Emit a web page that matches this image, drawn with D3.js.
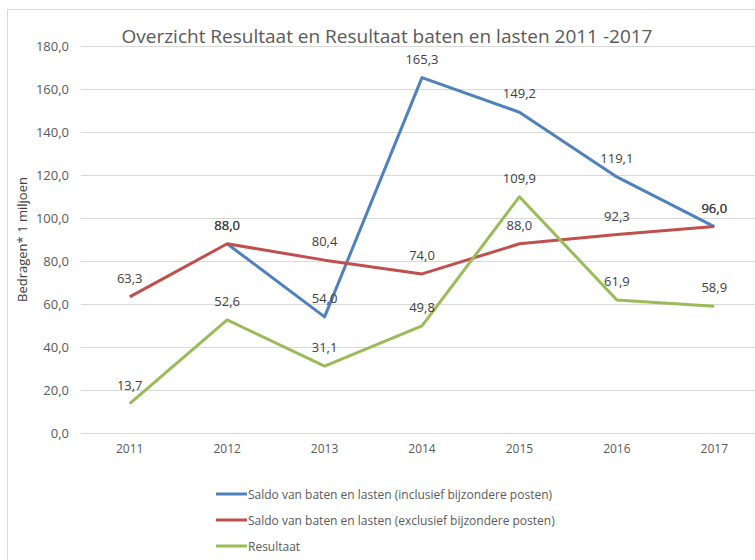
<!DOCTYPE html>
<html>
<head>
<meta charset="utf-8">
<script src="https://cdn.jsdelivr.net/npm/d3@7"></script>
<style>
  body { margin: 0; background: #fff; }
  svg { display: block; font-family: "Open Sans", sans-serif; }
</style>
</head>
<body>
<div id="chart"></div>
<script>
const years = ['2011', '2012', '2013', '2014', '2015', '2016', '2017'];
const inclusief = [null, 88.0, 54.0, 165.3, 149.2, 119.1, 96.0];
const exclusief = [63.3, 88.0, 80.4, 74.0, 88.0, 92.3, 96.0];
const resultaat = [13.7, 52.6, 31.1, 49.8, 109.9, 61.9, 58.9];
const yTicks = [0, 20, 40, 60, 80, 100, 120, 140, 160, 180];

const series = [
  { name: 'Saldo van baten en lasten (inclusief bijzondere posten)', values: inclusief, colour: '#4F81BD' },
  { name: 'Saldo van baten en lasten (exclusief bijzondere posten)', values: exclusief, colour: '#C0504D' },
  { name: 'Resultaat', values: resultaat, colour: '#9BBB59' },
];

const width = 755;
const height = 560;
const margin = { top: 46, left: 81, bottom: 127 };
const plotRight = 763;

const fmt = v => d3.format('.1f')(v).replace('.', ',');

const x = d3.scaleBand()
    .domain(years)
    .range([margin.left, plotRight]);

const y = d3.scaleLinear()
    .domain([0, 180])
    .range([height - margin.bottom, margin.top]);

const svg = d3.select('#chart').append('svg')
    .attr('width', width)
    .attr('height', height);

// outer chart border
svg.append('rect')
    .attr('x', 7.5).attr('y', 9.5)
    .attr('width', width + 10).attr('height', height + 10)
    .attr('fill', 'none')
    .attr('stroke', '#d9d9d9');

svg.append('text')
    .attr('x', 387).attr('y', 43)
    .attr('text-anchor', 'middle')
    .style('font-size', '19px')
    .style('fill', '#595959')
    .text('Overzicht Resultaat en Resultaat baten en lasten 2011 -2017');

// gridlines + y labels
const yAxis = svg.append('g')
    .attr('transform', `translate(${margin.left},0)`)
    .call(d3.axisLeft(y).tickValues(yTicks).tickFormat(fmt)
      .tickSize(-(plotRight - margin.left)).tickPadding(12));
yAxis.select('.domain').remove();
yAxis.selectAll('line').attr('stroke', '#d9d9d9');
yAxis.selectAll('text')
    .style('font-size', '13px')
    .style('fill', '#595959')
    .style('font-family', '"Open Sans", sans-serif');

const xAxis = svg.append('g')
    .attr('transform', `translate(0,${y(0)})`)
    .call(d3.axisBottom(x).tickSize(0).tickPadding(11));
xAxis.select('.domain').remove();
xAxis.selectAll('text')
    .style('font-size', '12px')
    .style('fill', '#595959')
    .style('font-family', '"Open Sans", sans-serif');

svg.append('text')
    .attr('transform', `translate(27,${y(90)}) rotate(-90)`)
    .attr('text-anchor', 'middle')
    .style('font-size', '13px')
    .style('fill', '#404040')
    .text('Bedragen* 1 miljoen');

const line = d3.line()
    .defined(d => d != null)
    .x((d, i) => x(years[i]) + x.bandwidth() / 2)
    .y(d => y(d));

series.forEach(s => {
  svg.append('path')
      .datum(s.values)
      .attr('d', line)
      .attr('fill', 'none')
      .attr('stroke', s.colour)
      .attr('stroke-width', 3)
      .attr('stroke-linejoin', 'round');
});

series.forEach(s => {
  svg.append('g').selectAll('text')
      .data(s.values.map((v, i) => ({ v, year: years[i] })).filter(d => d.v != null))
    .enter().append('text')
      .attr('x', d => x(d.year) + x.bandwidth() / 2)
      .attr('y', d => y(d.v) - 14)
      .attr('text-anchor', 'middle')
      .style('font-size', '13px')
      .style('fill', '#404040')
      .text(d => fmt(d.v));
});

// legend
const legend = svg.append('g')
    .selectAll('g')
    .data(series)
  .enter().append('g')
    .attr('transform', (d, i) => `translate(216,${494 + i * 26})`);
legend.append('line')
    .attr('x1', 0).attr('x2', 31)
    .attr('stroke', d => d.colour)
    .attr('stroke-width', 3);
legend.append('text')
    .attr('x', 32).attr('y', 4.5)
    .style('font-size', '12px')
    .style('fill', '#595959')
    .text(d => d.name);
</script>
</body>
</html>
